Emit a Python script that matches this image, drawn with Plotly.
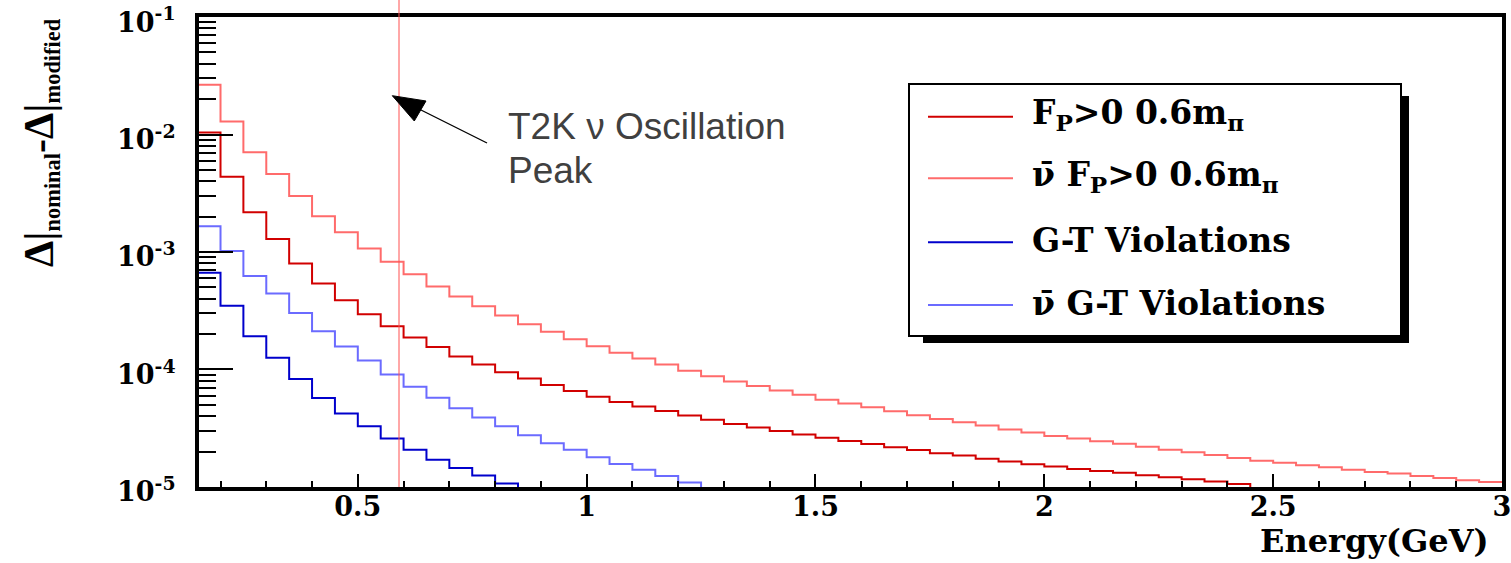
import numpy as np
import plotly.graph_objects as go

# ---------------- data ----------------
bin_low = 0.15
bin_width = 0.05

# anti-neutrino, F_P > 0, 0.6 m_pi  (light red)
fp_nubar = [2.65e-2, 1.29e-2, 7.06e-3, 4.61e-3, 3.00e-3, 2.02e-3, 1.47e-3, 1.07e-3, 8.26e-4, 6.46e-4,
            5.09e-4, 4.19e-4, 3.46e-4, 2.88e-4, 2.43e-4, 2.09e-4, 1.81e-4, 1.58e-4, 1.39e-4, 1.24e-4,
            1.10e-4, 9.77e-5, 8.75e-5, 7.89e-5, 7.24e-5, 6.61e-5, 6.08e-5, 5.53e-5, 5.12e-5, 4.76e-5,
            4.41e-5, 4.07e-5, 3.78e-5, 3.55e-5, 3.33e-5, 3.09e-5, 2.90e-5, 2.71e-5, 2.58e-5, 2.45e-5,
            2.33e-5, 2.20e-5, 2.07e-5, 1.97e-5, 1.87e-5, 1.76e-5, 1.67e-5, 1.61e-5, 1.53e-5, 1.47e-5,
            1.40e-5, 1.34e-5, 1.30e-5, 1.24e-5, 1.19e-5, 1.14e-5, 1.10e-5]
# neutrino, F_P > 0, 0.6 m_pi  (dark red)
fp_nu = [1.04e-2, 4.38e-3, 2.18e-3, 1.29e-3, 8.00e-4, 5.40e-4, 3.89e-4, 2.95e-4, 2.33e-4, 1.87e-4,
         1.55e-4, 1.29e-4, 1.10e-4, 9.46e-5, 8.36e-5, 7.38e-5, 6.56e-5, 5.87e-5, 5.28e-5, 4.83e-5,
         4.43e-5, 4.05e-5, 3.74e-5, 3.43e-5, 3.20e-5, 2.99e-5, 2.79e-5, 2.62e-5, 2.46e-5, 2.32e-5,
         2.18e-5, 2.06e-5, 1.94e-5, 1.85e-5, 1.74e-5, 1.65e-5, 1.56e-5, 1.49e-5, 1.42e-5, 1.37e-5,
         1.32e-5, 1.26e-5, 1.21e-5, 1.16e-5, 1.11e-5, 1.06e-5]
# neutrino, G-T violations (dark blue)
gt_nu = [6.65e-4, 3.48e-4, 1.92e-4, 1.26e-4, 8.30e-5, 5.71e-5, 4.21e-5, 3.28e-5, 2.58e-5, 2.07e-5,
         1.70e-5, 1.45e-5, 1.25e-5, 1.07e-5]
# anti-neutrino, G-T violations (light blue)
gt_nubar = [1.66e-3, 1.02e-3, 6.24e-4, 4.44e-4, 3.03e-4, 2.12e-4, 1.57e-4, 1.19e-4, 9.06e-5, 7.14e-5,
            5.75e-5, 4.67e-5, 3.91e-5, 3.28e-5, 2.75e-5, 2.36e-5, 2.07e-5, 1.79e-5, 1.57e-5, 1.40e-5,
            1.24e-5, 1.09e-5]

legend_labels = ["F<sub>P</sub>>0 0.6m<sub>π</sub>",
                 "ν\u0304 F<sub>P</sub>>0 0.6m<sub>π</sub>",
                 "G-T Violations",
                 "ν\u0304 G-T Violations"]

x_tickvals = [0.5, 1, 1.5, 2, 2.5, 3]
x_ticktext = ["0.5", "1", "1.5", "2", "2.5", "3"]
y_tickvals = [1e-5, 1e-4, 1e-3, 1e-2, 1e-1]
y_ticktext = ["10<sup>-5</sup>", "10<sup>-4</sup>", "10<sup>-3</sup>", "10<sup>-2</sup>", "10<sup>-1</sup>"]

osc_peak = 0.59
x_max = 3.0

# ---------------- styling ----------------
C_DRED = "#d10000"
C_LRED = "#ff6b6b"
C_DBLUE = "#0000cc"
C_LBLUE = "#6b6bff"
ROOT_FONT = "DejaVu Serif"
FLOOR = 1e-7

series = [
    (fp_nu, C_DRED),
    (fp_nubar, C_LRED),
    (gt_nu, C_DBLUE),
    (gt_nubar, C_LBLUE),
]

fig = go.Figure()
for vals, col in series:
    n = len(vals)
    edges = np.round(bin_low + bin_width * np.arange(n + 1), 4)
    if edges[-1] >= x_max - 1e-9:
        ys = list(vals) + [vals[-1]]
    else:
        ys = list(vals) + [FLOOR]
    fig.add_trace(go.Scatter(x=edges, y=ys, mode="lines", line=dict(color=col, width=2, shape="hv"),
                             showlegend=False, hoverinfo="skip"))

W, H = 1511, 563
ML, MR, MT, MB = 199, 9, 17, 76
PW, PH = W - ML - MR, H - MT - MB


def px(xp):
    return (xp - ML) / PW


def py(yp):
    return (H - MB - yp) / PH


minor_y = [m * 10.0 ** e for e in range(-5, -1) for m in range(2, 10)]

fig.update_layout(
    width=W, height=H,
    margin=dict(l=ML, r=MR, t=MT, b=MB, autoexpand=False),
    plot_bgcolor="white", paper_bgcolor="white",
    showlegend=False,
    xaxis=dict(range=[0.153, x_max], showline=True, mirror=True, linewidth=4, linecolor="black",
               ticks="inside", ticklen=13, tickwidth=2, tickcolor="black",
               tickmode="array", tickvals=x_tickvals, ticktext=x_ticktext,
               minor=dict(dtick=0.1, tick0=0, ticks="inside", ticklen=6, tickwidth=2, tickcolor="black",
                          showgrid=False),
               showgrid=False, zeroline=False, ticklabelstandoff=-7, ticklabeloverflow="allow",
               automargin=False,
               tickfont=dict(family=ROOT_FONT, size=27, color="black", weight="bold")),
    yaxis=dict(type="log", range=[-5.0005, -0.9995], showline=True, mirror=True, linewidth=4, linecolor="black",
               ticks="inside", ticklen=34, tickwidth=2, tickcolor="black",
               tickmode="array", tickvals=y_tickvals, ticktext=y_ticktext,
               minor=dict(tickmode="array", tickvals=minor_y, ticks="inside", ticklen=17, tickwidth=2,
                          tickcolor="black", showgrid=False),
               showgrid=False, zeroline=False, ticklabelstandoff=14, ticklabelshift=5,
               ticklabeloverflow="allow", automargin=False,
               tickfont=dict(family=ROOT_FONT, size=27, color="black", weight="bold")),
)

shapes = []
# oscillation peak marker
shapes.append(dict(type="line", xref="x", yref="paper", x0=osc_peak, x1=osc_peak, y0=0, y1=py(0),
                   line=dict(color="#ff5050", width=1), layer="above"))
# legend shadow and box
shapes.append(dict(type="rect", xref="paper", yref="paper", x0=px(923), x1=px(1409), y0=py(343), y1=py(96),
                   fillcolor="black", line=dict(width=0), layer="above"))
shapes.append(dict(type="rect", xref="paper", yref="paper", x0=px(909), x1=px(1401), y0=py(336), y1=py(84),
                   fillcolor="white", line=dict(color="black", width=2), layer="above"))
row_y = [116.7, 178.3, 242.3, 305.0]
legend_cols = [C_DRED, C_LRED, C_DBLUE, C_LBLUE]
annotations = []
for ry, col, lab in zip(row_y, legend_cols, legend_labels):
    shapes.append(dict(type="line", xref="paper", yref="paper", x0=px(928), x1=px(1013), y0=py(ry), y1=py(ry),
                       line=dict(color=col, width=2), layer="above"))
    annotations.append(dict(xref="paper", yref="paper", x=px(1030), y=py(ry - 2), xanchor="left", yanchor="middle",
                            text=lab, showarrow=False,
                            font=dict(family=ROOT_FONT, size=33, color="black", weight="bold")))

# pointer arrow: shaft and filled head
shapes.append(dict(type="line", xref="paper", yref="paper", x0=px(487), y0=py(143), x1=px(405), y1=py(102),
                   line=dict(color="black", width=1.3), layer="above"))
head = [(392.3, 95.7), (414.3, 121.0), (426.0, 101.0)]
head_path = "M " + " L ".join(f"{px(a):.5f},{py(b):.5f}" for a, b in head) + " Z"
shapes.append(dict(type="path", xref="paper", yref="paper", path=head_path, fillcolor="black",
                   line=dict(color="black", width=1), layer="above"))

# axis titles
annotations.append(dict(xref="paper", yref="paper", x=px(1258), y=py(541), xanchor="left", yanchor="middle",
                        text="Energy(GeV)", showarrow=False,
                        font=dict(family=ROOT_FONT, size=32, color="black", weight="bold")))
ytitle = ("<span style='font-size:42px'>Δ|</span><sub>nominal</sub>"
          "<span style='font-size:42px'>-Δ|</span><sub>modified</sub>")
annotations.append(dict(xref="paper", yref="paper", x=px(40), y=py(143), xanchor="center", yanchor="middle",
                        textangle=-90, text=ytitle, showarrow=False,
                        font=dict(family="Liberation Serif", size=32, color="black", weight="bold")))

# note
annotations.append(dict(xref="paper", yref="paper", x=px(506), y=py(126.5), xanchor="left", yanchor="middle",
                        text="T2K ν Oscillation", showarrow=False,
                        font=dict(family="Liberation Sans", size=37, color="#404040")))
annotations.append(dict(xref="paper", yref="paper", x=px(506), y=py(170.8), xanchor="left", yanchor="middle",
                        text="Peak", showarrow=False,
                        font=dict(family="Liberation Sans", size=37, color="#404040")))

fig.update_layout(shapes=shapes, annotations=annotations)
fig.write_html("out.html")
